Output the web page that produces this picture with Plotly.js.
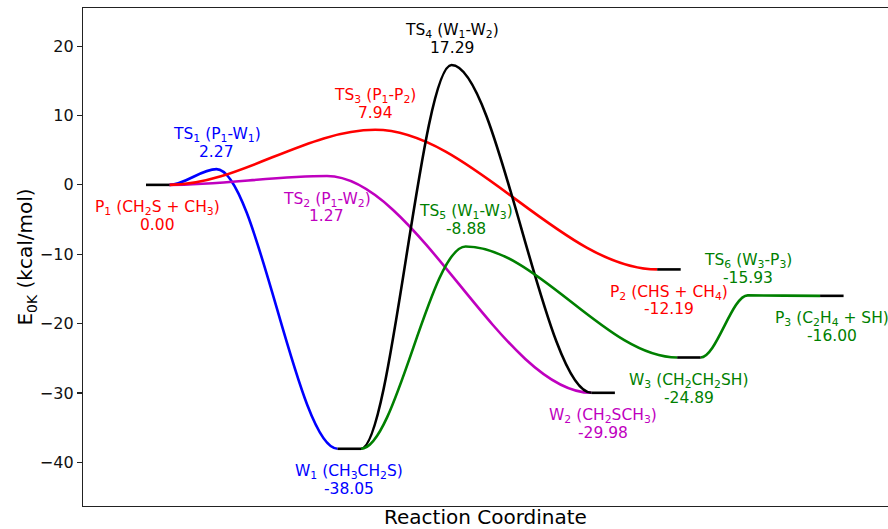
<!DOCTYPE html>
<html>
<head>
<meta charset="utf-8">
<script src="https://cdn.plot.ly/plotly-3.0.1.min.js"></script>
<style>
  html, body { margin: 0; padding: 0; background: #fff; }
  #chart { width: 888px; height: 529px; }
</style>
</head>
<body>
<div id="chart"></div>
<script>
// ---- Minima (drawn as short flat levels) ----
const minIds    = ['P1', 'W1', 'W2', 'P2', 'W3', 'P3'];
const minNames  = ['P<sub>1</sub> (CH<sub>2</sub>S + CH<sub>3</sub>)',
                   'W<sub>1</sub> (CH<sub>3</sub>CH<sub>2</sub>S)',
                   'W<sub>2</sub> (CH<sub>2</sub>SCH<sub>3</sub>)',
                   'P<sub>2</sub> (CHS + CH<sub>4</sub>)',
                   'W<sub>3</sub> (CH<sub>2</sub>CH<sub>2</sub>SH)',
                   'P<sub>3</sub> (C<sub>2</sub>H<sub>4</sub> + SH)'];
const minEnergy = [0.00, -38.05, -29.98, -12.19, -24.89, -16.00];
const minStart  = [0.00, 8.15, 18.95, 21.75, 22.60, 28.68];
const minEnd    = [1.00, 9.15, 19.95, 22.75, 23.60, 29.68];
const minColors = ['#ff0000', '#0000ff', '#bf00bf', '#ff0000', '#008000', '#008000'];

// ---- Transition states ----
const tsIds     = ['TS1', 'TS2', 'TS3', 'TS4', 'TS5', 'TS6'];
const tsNames   = ['TS<sub>1</sub> (P<sub>1</sub>-W<sub>1</sub>)',
                   'TS<sub>2</sub> (P<sub>1</sub>-W<sub>2</sub>)',
                   'TS<sub>3</sub> (P<sub>1</sub>-P<sub>2</sub>)',
                   'TS<sub>4</sub> (W<sub>1</sub>-W<sub>2</sub>)',
                   'TS<sub>5</sub> (W<sub>1</sub>-W<sub>3</sub>)',
                   'TS<sub>6</sub> (W<sub>3</sub>-P<sub>3</sub>)'];
const tsEnergy  = [2.27, 1.27, 7.94, 17.29, -8.88, -15.93];
const tsX       = [3.00, 7.70, 9.75, 13.00, 13.60, 25.60];
const tsColors  = ['#0000ff', '#bf00bf', '#ff0000', '#000000', '#008000', '#008000'];
const tsBelow   = [false, true, false, false, false, false];

// ---- Reaction paths: reactant -> TS -> product ----
const pathFrom   = ['P1', 'P1', 'P1', 'W1', 'W1', 'W3'];
const pathTS     = ['TS1', 'TS2', 'TS3', 'TS4', 'TS5', 'TS6'];
const pathTo     = ['W1', 'W2', 'P2', 'W2', 'W3', 'P3'];
const pathColors = ['#0000ff', '#bf00bf', '#ff0000', '#000000', '#008000', '#008000'];

// smooth connector between two stationary points (flat tangents at both ends),
// drawn by Plotly in data coordinates
function seg(x0, y0, x1, y1) {
  const dx = x1 - x0;
  return ' C ' + (x0 + dx / 3) + ',' + y0 + ' ' + (x0 + 2 * dx / 3) + ',' + y1 + ' ' + x1 + ',' + y1;
}
const shapes = [];
for (let i = 0; i < pathTS.length; i++) {
  const a = minIds.indexOf(pathFrom[i]);
  const t = tsIds.indexOf(pathTS[i]);
  const b = minIds.indexOf(pathTo[i]);
  const d = 'M ' + minEnd[a] + ',' + minEnergy[a] +
            seg(minEnd[a], minEnergy[a], tsX[t], tsEnergy[t]) +
            seg(tsX[t], tsEnergy[t], minStart[b], minEnergy[b]);
  shapes.push({ type: 'path', xref: 'x', yref: 'y', path: d, layer: 'below',
                line: { color: pathColors[i], width: 2.6 } });
}

// flat black levels for minima
const lx = [], ly = [];
for (let i = 0; i < minIds.length; i++) {
  lx.push(minStart[i], minEnd[i], null);
  ly.push(minEnergy[i], minEnergy[i], null);
}
const traces = [{
  type: 'scatter', mode: 'lines', x: lx, y: ly,
  line: { color: '#000000', width: 2.6 }, hoverinfo: 'skip', showlegend: false
}];

const labelFont = { family: 'DejaVu Sans, sans-serif', size: 15.5 };
const annotations = [];
function addLabel(x, y, name, value, color, below) {
  const s1 = below ? -23.5 : 34;
  const s2 = below ? -40 : 17;
  annotations.push({ x: x, y: y, xref: 'x', yref: 'y', text: name, showarrow: false,
    yshift: s1, xanchor: 'center', yanchor: 'middle', font: Object.assign({ color: color }, labelFont) });
  annotations.push({ x: x, y: y, xref: 'x', yref: 'y', text: value.toFixed(2), showarrow: false,
    yshift: s2, xanchor: 'center', yanchor: 'middle', font: Object.assign({ color: color }, labelFont) });
}
for (let i = 0; i < minIds.length; i++) {
  addLabel((minStart[i] + minEnd[i]) / 2, minEnergy[i], minNames[i], minEnergy[i], minColors[i], true);
}
for (let i = 0; i < tsIds.length; i++) {
  addLabel(tsX[i], tsEnergy[i], tsNames[i], tsEnergy[i], tsColors[i], tsBelow[i]);
}

const layout = {
  width: 888, height: 529,
  margin: { l: 83, r: 0, t: 8, b: 22.5, pad: 0 },
  paper_bgcolor: '#ffffff', plot_bgcolor: '#ffffff',
  font: { family: 'DejaVu Sans, sans-serif', color: '#000000' },
  showlegend: false,
  xaxis: {
    range: [-2.68, 31.57], showgrid: false, zeroline: false,
    showticklabels: false, ticks: '',
    showline: true, linecolor: '#222222', linewidth: 1.2, mirror: true,
    title: { text: 'Reaction Coordinate', font: { size: 20, color: '#000' }, standoff: 8 }
  },
  yaxis: {
    range: [-46.3, 25.5], showgrid: false, zeroline: false,
    tickmode: 'array', tickvals: [-40, -30, -20, -10, 0, 10, 20],
    ticks: 'outside', ticklen: 5, tickwidth: 1.2, tickcolor: '#222222',
    tickfont: { size: 16, color: '#111111' },
    showline: true, linecolor: '#222222', linewidth: 1.2, mirror: false,
    title: { text: 'E<sub>0K</sub> (kcal/mol)', font: { size: 20, color: '#000' }, standoff: 1 }
  },
  shapes: shapes,
  annotations: annotations
};

Plotly.newPlot('chart', traces, layout, { staticPlot: true, displayModeBar: false });
</script>
</body>
</html>
